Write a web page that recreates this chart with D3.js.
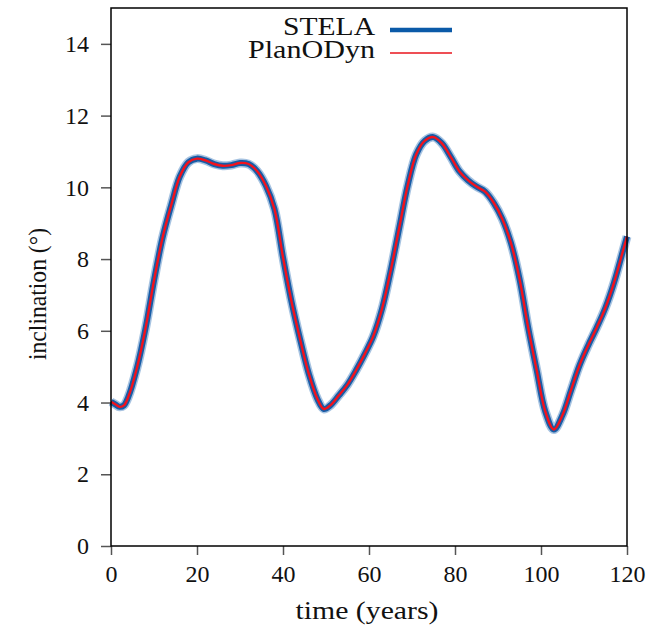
<!DOCTYPE html>
<html>
<head>
<meta charset="utf-8">
<script src="https://cdn.jsdelivr.net/npm/d3@7"></script>
<style>
  body { margin: 0; background: #fff; }
  svg { display: block; }
  text { font-family: "Liberation Serif", "Times New Roman", serif; fill: #111; }
</style>
</head>
<body>
<div id="chart"></div>
<script>
// time in years
const years = [0, 1, 2, 3, 4, 6, 8, 10, 12, 14, 16, 18, 20, 22, 24, 26, 28, 30, 32, 34, 36, 38, 40, 42, 44, 46, 48, 49.5, 51, 53, 55, 57, 59, 61, 63, 65, 67, 69, 71, 73, 75, 77, 79, 81, 83, 85, 87, 89, 91, 93, 95, 97, 99, 101, 103, 105, 107, 109, 111, 113, 115, 117, 119, 120];

// inclination (deg)
const stela = [4.02, 3.95, 3.88, 3.92, 4.15, 4.95, 6.05, 7.4, 8.6, 9.5, 10.3, 10.7, 10.8, 10.75, 10.65, 10.6, 10.62, 10.68, 10.65, 10.45, 10.05, 9.4, 8.05, 6.8, 5.75, 4.8, 4.1, 3.82, 3.92, 4.2, 4.5, 4.9, 5.35, 5.85, 6.6, 7.65, 8.85, 10.05, 10.92, 11.3, 11.4, 11.22, 10.85, 10.45, 10.2, 10.02, 9.88, 9.57, 9.12, 8.45, 7.45, 6.1, 4.9, 3.75, 3.25, 3.65, 4.35, 5.05, 5.6, 6.1, 6.65, 7.35, 8.2, 8.63];
const planodyn = [4.02, 3.95, 3.88, 3.92, 4.15, 4.95, 6.05, 7.4, 8.6, 9.5, 10.3, 10.7, 10.8, 10.75, 10.65, 10.6, 10.62, 10.68, 10.65, 10.45, 10.05, 9.4, 8.05, 6.8, 5.75, 4.8, 4.1, 3.82, 3.92, 4.2, 4.5, 4.9, 5.35, 5.85, 6.6, 7.65, 8.85, 10.05, 10.92, 11.3, 11.4, 11.22, 10.85, 10.45, 10.2, 10.02, 9.88, 9.57, 9.12, 8.45, 7.45, 6.1, 4.9, 3.75, 3.25, 3.65, 4.35, 5.05, 5.6, 6.1, 6.65, 7.35, 8.2, 8.63];

const xTicks = [0, 20, 40, 60, 80, 100, 120];
const yTicks = [0, 2, 4, 6, 8, 10, 12, 14];
const seriesNames = ["STELA", "PlanODyn"];

const width = 648, height = 628;
const margin = { top: 8, right: 21, bottom: 82, left: 111 };

const svg = d3.select("#chart").append("svg")
  .attr("width", width)
  .attr("height", height);

const x = d3.scaleLinear().domain([0, 120]).range([margin.left, width - margin.right]);
const y = d3.scaleLinear().domain([0, 15]).range([height - margin.bottom, margin.top]);

// axes
const xAxis = svg.append("g")
  .attr("transform", `translate(0,${height - margin.bottom})`)
  .call(d3.axisBottom(x).tickValues(xTicks).tickSize(9).tickPadding(10));
const yAxis = svg.append("g")
  .attr("transform", `translate(${margin.left},0)`)
  .call(d3.axisLeft(y).tickValues(yTicks).tickSize(10).tickPadding(12));

[xAxis, yAxis].forEach(g => {
  g.select(".domain").remove();
  g.selectAll(".tick line").attr("stroke", "#555").attr("stroke-width", 1.5);
  g.selectAll(".tick text")
    .style("font-family", "'Liberation Serif', serif")
    .style("font-size", "24px")
    .attr("fill", "#111");
});

// lines
const pts = (vals) => years.map((t, i) => [t, vals[i]]);
const line = d3.line()
  .x(d => x(d[0]))
  .y(d => y(d[1]))
  .curve(d3.curveCatmullRom.alpha(0.5));

const plot = svg.append("g");

plot.append("path")
  .attr("d", line(pts(stela)))
  .attr("fill", "none")
  .attr("stroke", "#4f88c4")
  .attr("stroke-width", 9)
  .attr("stroke-opacity", 0.5)
  .attr("stroke-linejoin", "round");

plot.append("path")
  .attr("d", line(pts(stela)))
  .attr("fill", "none")
  .attr("stroke", "#175ca6")
  .attr("stroke-width", 6)
  .attr("stroke-linejoin", "round");

plot.append("path")
  .attr("d", line(pts(planodyn)))
  .attr("fill", "none")
  .attr("stroke", "#f2121c")
  .attr("stroke-width", 2.4)
  .attr("stroke-linejoin", "round");

// frame
svg.append("rect")
  .attr("x", margin.left)
  .attr("y", margin.top)
  .attr("width", width - margin.left - margin.right)
  .attr("height", height - margin.top - margin.bottom)
  .attr("fill", "none")
  .attr("stroke", "#000")
  .attr("stroke-width", 1.5);

// legend
const legend = svg.append("g");
const legendStyles = [
  { color: "#0b5aa8", w: 4.5, y: 30, base: 35, len: 92 },
  { color: "#e8141c", w: 1.5, y: 53, base: 58, len: 127 }
];
seriesNames.forEach((name, i) => {
  const s = legendStyles[i];
  legend.append("text")
    .attr("x", 375)
    .attr("y", s.base)
    .attr("text-anchor", "end")
    .attr("textLength", s.len)
    .attr("lengthAdjust", "spacingAndGlyphs")
    .style("font-size", "25px")
    .text(name);
  legend.append("line")
    .attr("x1", 390).attr("x2", 452)
    .attr("y1", s.y).attr("y2", s.y)
    .attr("stroke", s.color)
    .attr("stroke-width", s.w);
});

// axis titles
svg.append("text")
  .attr("x", 367)
  .attr("y", 619)
  .attr("text-anchor", "middle")
  .attr("textLength", 143)
  .attr("lengthAdjust", "spacingAndGlyphs")
  .style("font-size", "25px")
  .text("time (years)");

svg.append("text")
  .attr("transform", `translate(46,294) rotate(-90)`)
  .attr("text-anchor", "middle")
  .attr("textLength", 132)
  .attr("lengthAdjust", "spacingAndGlyphs")
  .style("font-size", "25px")
  .text("inclination (°)");
</script>
</body>
</html>
